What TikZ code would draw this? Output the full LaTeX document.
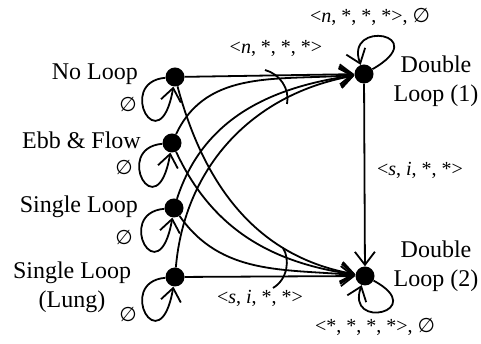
\documentclass[tikz,border=0pt]{standalone}
\usepackage{fontspec}
\setmainfont{Liberation Serif}
\newfontfamily\symfont{DejaVu Sans}
\newcommand{\emp}{{\symfont\fontsize{20}{22}\selectfont ∅}}
\usetikzlibrary{arrows.meta}
\begin{document}
\begin{tikzpicture}[x=1pt,y=1pt,
  dot/.style={circle,fill=black,inner sep=0pt,minimum size=19pt},
  big/.style={font=\fontsize{24}{29}\selectfont, align=center, inner sep=0pt},
  lab/.style={font=\fontsize{20}{23}\selectfont, inner sep=0pt},
  ln/.style={line width=1.8pt},
  arr/.style={ln, -{Straight Barb[length=13pt,width=20pt,line width=1.8pt]}}]
\useasboundingbox (0,0) rectangle (481,344);
% nodes
\node[dot] (nl) at (175,267) {};
\node[dot] (ebb) at (172,201) {};
\node[dot] (sl) at (174,136) {};
\node[dot] (lung) at (175,67) {};
\node[dot] (d1) at (364,270) {};
\node[dot] (d2) at (365,68) {};
% labels
\node[big, anchor=east] (tnl) at (138,270) {No Loop};
\node[big, anchor=east] (tebb) at (141,204) {Ebb \& Flow};
\node[big, anchor=east] (tsl) at (138,137) {Single Loop};
\node[big] (tlung) at (72,57) {Single Loop\\(Lung)};
\node[big] (td1) at (436,263) {Double\\Loop (1)};
\node[big] (td2) at (436,78) {Double\\Loop (2)};
\node[lab] (l1) at (276,296) {<\textit{n}, *, *, *>};
\node[lab] (l2) at (370,327) {<\textit{n}, *, *, *>, \emp};
\node[lab] (l3) at (420,174) {<\textit{s}, \textit{i}, *, *>};
\node[lab] (l4) at (260,46) {<\textit{s}, \textit{i}, *, *>};
\node[lab] (l5) at (375,17) {<*, *, *, *>, \emp};
\node[lab] (e1) at (128,239) {\emp};
\node[lab] (e2) at (124,176) {\emp};
\node[lab] (e3) at (124,106) {\emp};
\node[lab] (e4) at (128,29) {\emp};
% edges to d1
\draw[arr] (nl) -- (d1);
\draw[arr] (ebb) to[out=65,in=185] (d1);
\draw[arr] (sl) to[out=72,in=188] (d1);
\draw[arr] (lung) to[out=85,in=190] (d1);
% edges to d2
\draw[arr] (lung) -- (d2);
\draw[arr] (nl) to[out=-75,in=170] (d2);
\draw[arr] (ebb) to[out=-65,in=172] (d2);
\draw[arr] (sl) to[out=-55,in=175] (d2);
% d1 -> d2
\draw[arr] (d1) -- (d2);
% self loops
\draw[arr] (nl) .. controls +(-60,-5) and +(-15,-88) .. (nl);
\draw[arr] (ebb) .. controls +(-60,-5) and +(-15,-88) .. (ebb);
\draw[arr] (sl) .. controls +(-60,-5) and +(-15,-88) .. (sl);
\draw[arr] (lung) .. controls +(-60,-5) and +(-15,-88) .. (lung);
\draw[arr] (d1) .. controls +(70,40) and +(-20,55) .. (d1);
\draw[arr] (d2) .. controls +(65,-35) and +(-20,-55) .. (d2);
% and-arcs
\draw[ln] (265,274) .. controls (280,270) and (290,255) .. (287,240);
\draw[ln] (283,96) .. controls (290,85) and (288,65) .. (273,56);
\end{tikzpicture}
\end{document}
